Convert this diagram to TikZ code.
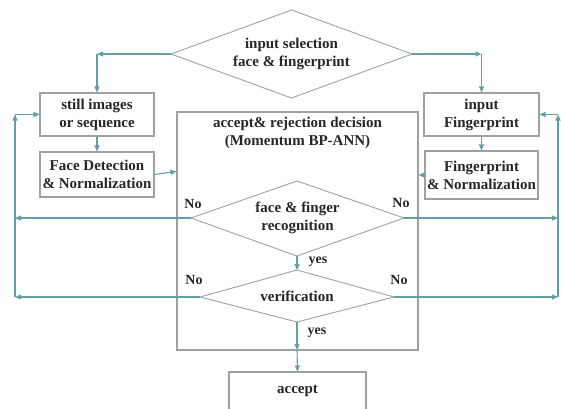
\documentclass[tikz,border=0pt]{standalone}
\usepackage{fontspec}
\setmainfont{Liberation Serif}
\usetikzlibrary{arrows.meta,calc}
\definecolor{teal1}{RGB}{98,160,165}
\definecolor{grey1}{RGB}{160,160,160}
\begin{document}
\begin{tikzpicture}[x=1pt,y=-1pt,
  lbl/.style={font=\fontsize{15}{18}\selectfont\bfseries, align=center, text=black!85},
  boxn/.style={lbl, draw=grey1, line width=1.1pt, inner sep=0pt, fill=white},
  dia/.style={draw=grey1, line width=0.9pt, fill=white},
  arr/.style={draw=teal1, line width=1.1pt, -{Triangle[length=6pt,width=5pt]}},
  nolbl/.style={font=\fontsize{14}{16}\selectfont\bfseries, text=black!85}]
\clip (0,0) rectangle (561,408);
% big box
\node[draw=grey1, line width=1.1pt, minimum width=241pt, minimum height=238pt, inner sep=0pt] (bigbox) at (297.5,231) {};
\node[lbl] (bigtitle) at (297.5,132.5) {accept\& rejection decision\\(Momentum BP-ANN)};
% boxes
\node[boxn, minimum width=114pt, minimum height=43pt] (still) at (97,114.5) {still images\\or sequence};
\node[boxn, minimum width=114pt, minimum height=45pt] (facedet) at (97,174.5) {Face Detection\\\& Normalization};
\node[boxn, minimum width=115pt, minimum height=43pt] (inputfp) at (481.5,114.5) {input\\Fingerprint};
\node[boxn, minimum width=113pt, minimum height=48pt] (fpnorm) at (481.5,175) {Fingerprint\\\& Normalization};
\node[boxn, minimum width=137pt, minimum height=38pt] (accept) at (297.5,391) {accept};
% diamonds (drawn as polygons with named tips)
\coordinate (topW) at (171,54); \coordinate (topE) at (412,54);
\coordinate (topN) at (291.5,10); \coordinate (topS) at (291.5,98);
\draw[dia] (topW) -- (topN) -- (topE) -- (topS) -- cycle;
\node[lbl] (toptxt) at (291.5,54) {input selection\\face \& fingerprint};
\coordinate (ffW) at (191,218); \coordinate (ffE) at (404,218);
\coordinate (ffN) at (297,181); \coordinate (ffS) at (297,256);
\draw[dia] (ffW) -- (ffN) -- (ffE) -- (ffS) -- cycle;
\node[lbl] (fftxt) at (297.5,218) {face \& finger\\recognition};
\coordinate (verW) at (200,297); \coordinate (verE) at (394,297);
\coordinate (verN) at (297,270); \coordinate (verS) at (297,322);
\draw[dia] (verW) -- (verN) -- (verE) -- (verS) -- cycle;
\node[lbl] (vertxt) at (297,296) {verification};
% coordinates
\coordinate (cl) at (97,54);
\coordinate (cr) at (481.5,54);
\coordinate (l1) at (15,218);
\coordinate (l2) at (15,297);
\coordinate (lt) at (15,114.5);
\coordinate (r1) at (558,218);
\coordinate (r2) at (558,297);
\coordinate (rt) at (558,114.5);
\coordinate (bb) at (297,350);
% top arrows
\draw[arr] (topW) -- (cl);
\draw[arr] (cl) -- (still.north);
\draw[arr] (topE) -- (cr);
\draw[arr] (cr) -- (inputfp.north);
\draw[arr] (still.south) -- (facedet.north);
\draw[arr] (inputfp.south) -- (fpnorm.north);
\draw[arr] (facedet.east) -- ($(bigbox.west |- facedet.east)+(0,-3)$);
\draw[arr] (fpnorm.west) -- (bigbox.east |- fpnorm.west);
% yes arrows
\draw[arr] (ffS) -- (verN);
\draw[arr] (verS) -- (bb);
\draw[arr] (bb) -- (accept.north);
% left loop
\draw[arr] (ffW) -- (l1);
\draw[arr] (verW) -- (l2);
\draw[arr] (l2) -- (lt);
\draw[arr] (lt) -- (still.west);
% right loop
\draw[arr] (ffE) -- (r1);
\draw[arr] (verE) -- (r2);
\draw[arr] (r2) -- (rt);
\draw[arr] (rt) -- (inputfp.east);
% labels
\node[nolbl] (no1) at (193,204) {No};
\node[nolbl] (no2) at (401,203) {No};
\node[nolbl] (no3) at (194,280) {No};
\node[nolbl] (no4) at (399,280) {No};
\node[nolbl] (yes1) at (318,262) {yes};
\node[nolbl] (yes2) at (317,333) {yes};
\end{tikzpicture}
\end{document}
